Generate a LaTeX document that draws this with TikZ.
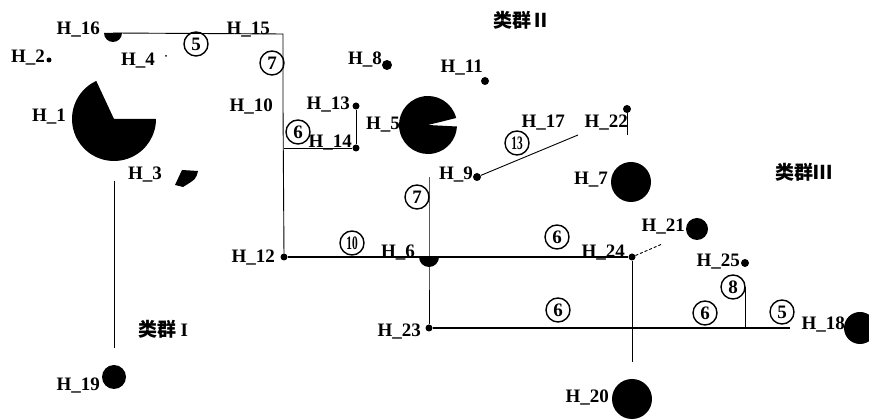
\documentclass[tikz,border=0pt]{standalone}
\usepackage{fontspec}
\usepackage{graphicx}
\setmainfont{Liberation Serif}
\newfontfamily\cjk{Noto Sans CJK SC}
\usetikzlibrary{positioning}
\tikzset{
dot/.style={circle, fill=black, inner sep=0pt, minimum size=#1}, % filled point, size = weight
dot/.default=7pt,
lab/.style={font=\bfseries\fontsize{19}{19}\selectfont, inner sep=0pt, anchor=base east},
grp/.style={font=\cjk\bfseries\fontsize{19}{19}\selectfont, inner sep=0pt, anchor=base west},
num/.style={circle, draw, line width=1.4pt, inner sep=0pt, minimum size=24pt, font=\bfseries\fontsize{19}{19}\selectfont},
link/.style={line width=0.9pt},
main/.style={line width=1.7pt},
}

\begin{document}
\begin{tikzpicture}[x=1pt, y=1pt]
\clip (0,0) rectangle (869,419);
% points
\coordinate (h1) at (114,300);
\coordinate (h3) at (187,241);
\coordinate (h5) at (428,294);
\coordinate (h6) at (429,162);
\coordinate (h16) at (113,386);
\coordinate (h15) at (283,385);
\coordinate (h10) at (283,313);
\coordinate (h17) at (578,284);
\node[dot=5pt] (h2) at (49,359) {};
\node[dot=2pt] (h4) at (166,363) {};
\node[dot=10pt] (h8) at (387,354) {};
\node[dot=8pt] (h11) at (485,338) {};
\node[dot] (h13) at (356,313) {};
\node[dot] (h14) at (356,271) {};
\node[dot] (h12) at (284,162) {};
\node[dot=8pt] (h9) at (477,242) {};
\node[dot=8pt] (h22) at (627,310) {};
\node[dot=40pt] (h7) at (631,237) {};
\node[dot] (h24) at (632,162) {};
\node[dot=22pt] (h21) at (697,190) {};
\node[dot=8pt] (h25) at (745,156) {};
\node[dot] (h23) at (429,91) {};
\node[dot=32pt] (h18) at (860,91) {};
\node[dot=40pt] (h20) at (632,20) {};
\node[dot=24pt] (h19) at (114,42) {};
% pies
\fill (h1) -- ++(115:42pt) arc[start angle=115, end angle=360, radius=42pt] -- cycle;
\fill (h5) -- ++(14:29pt) arc[start angle=14, end angle=357, radius=29pt] -- cycle;
\fill (h16) ++(180:9pt) arc[start angle=180, end angle=360, radius=9pt] -- cycle;
\fill (h6) ++(180:10pt) arc[start angle=180, end angle=360, radius=10pt] -- cycle;
\fill[shift={(h3)}] (-12,-7) -- (-5,8) -- (11,7) .. controls (9,-1) .. (-4,-9) -- cycle;
% links
\draw[link] (h16) -- (h15) -- (h10) -- (h12);
\draw[link] (h12 |- h14) -- (h14) -- (h13);
\draw[link, shorten <=62pt, shorten >=17pt] (h1) -- (h19);
\draw[main] (h12) -- (h6) -- (h24);
\draw[link] (h6 |- h9) -- (h6) -- (h23);
\draw[link] (h9) -- (h17);
\draw[link] (h22) -- (h22 |- h17);
\draw[link, densely dashed, shorten >=28pt] (h24) -- (h21);
\draw[link, shorten >=17pt] (h24) -- (h20);
\draw[main, shorten >=54pt] (h23) -- (h18);
\draw[link, shorten <=20pt] (h25) -- (h25 |- h23);
% weights
\node[num] (w16) at (196,375) {5};
\node[num] (w10) at (272,356) {7};
\node[num] (w14) at (298,287) {6};
\node[num] (w12) at (352,176) {\scalebox{0.6}[1]{10}};
\node[num] (w9) at (417,222) {7};
\node[num] (w17) at (517,276) {\scalebox{0.6}[1]{13}};
\node[num] (w24) at (557,182) {6};
\node[num] (w23) at (558,109) {6};
\node[num] (w21) at (705,106) {6};
\node[num] (w25) at (733,132) {8};
\node[num] (w18) at (782,107) {5};
% labels
\node[lab] (l16) at (100,384) {H\_16};
\node[lab] (l2) at (45,356) {H\_2};
\node[lab] (l4) at (155,353) {H\_4};
\node[lab] (l1) at (66,297) {H\_1};
\node[lab] (l3) at (162,239) {H\_3};
\node[lab] (l19) at (100,28) {H\_19};
\node[lab] (l15) at (270,384) {H\_15};
\node[lab] (l10) at (273,307) {H\_10};
\node[lab] (l13) at (350,309) {H\_13};
\node[lab] (l14) at (352,271) {H\_14};
\node[lab] (l12) at (275,156) {H\_12};
\node[lab] (l8) at (382,354) {H\_8};
\node[lab] (l11) at (483,346) {H\_11};
\node[lab] (l5) at (400,289) {H\_5};
\node[lab] (l17) at (565,291) {H\_17};
\node[lab] (l22) at (628,291) {H\_22};
\node[lab] (l9) at (473,239) {H\_9};
\node[lab] (l7) at (608,234) {H\_7};
\node[lab] (l6) at (415,161) {H\_6};
\node[lab] (l24) at (625,161) {H\_24};
\node[lab] (l23) at (421,82) {H\_23};
\node[lab] (l20) at (609,16) {H\_20};
\node[lab] (l21) at (685,187) {H\_21};
\node[lab] (l25) at (740,152) {H\_25};
\node[lab] (l18) at (845,89) {H\_18};
% groups
\node[grp] (g1) at (138,82) {类群 {\rmfamily I}};
\node[grp] (g2) at (493,391) {类群Ⅱ};
\node[grp] (g3) at (775,239) {类群Ⅲ};
\end{tikzpicture}
\end{document}
